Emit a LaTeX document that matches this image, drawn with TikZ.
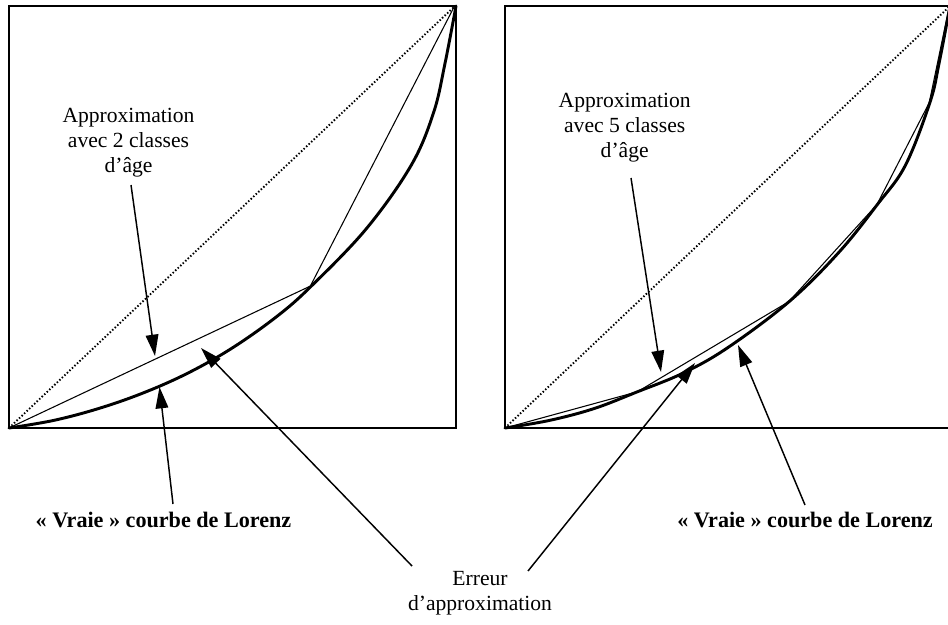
\documentclass[tikz,border=0pt]{standalone}
\usepackage{fontspec}
\setmainfont{Liberation Serif}
\usetikzlibrary{arrows.meta}
\begin{document}
\begin{tikzpicture}[x=0.75pt,y=-0.75pt,
  frame/.style={line width=1.4pt},
  lorenz/.style={line width=2.2pt, line join=round, line cap=round},
  chord/.style={line width=0.8pt, line join=round},
  equality/.style={line width=1.4pt, dash pattern=on 1.1pt off 1.5pt},
  pointer/.style={line width=1.1pt, -{Triangle[length=16pt,width=9.5pt]}},
  txt/.style={font=\fontsize{16.2}{18.5}\selectfont, align=center, inner sep=0pt},
  boldtxt/.style={font=\fontsize{16.6}{18.5}\selectfont\bfseries, align=center, inner sep=0pt}]
\useasboundingbox (0,0) rectangle (948,624);

% ---- left panel: two age classes ----
\draw[frame] (9,6) rectangle (456,428);
\begin{scope}[shift={(9,428)}, xscale=447, yscale=-422]
  \coordinate (L0) at (0,0);
  \coordinate (L1) at (1,1);
  \coordinate (Lk) at (0.677,0.337);
  \draw[equality] (L0) -- (L1);
  \draw[chord] (L0) -- (Lk) -- (L1);
  \draw[lorenz] plot[smooth, tension=0.6] coordinates {(0,0) (0.1,0.018) (0.2,0.046) (0.3,0.083) (0.4,0.130) (0.5,0.190) (0.6,0.265) (0.677,0.337) (0.8,0.473) (0.9,0.623) (0.95,0.748) (0.975,0.862) (1,1)};
\end{scope}

% ---- right panel: five age classes ----
\draw[frame] (505,6) rectangle (950,428);
\begin{scope}[shift={(505,428)}, xscale=445, yscale=-422]
  \coordinate (R0) at (0,0);
  \coordinate (R1) at (1,1);
  \coordinate (Ra) at (0.298,0.086);
  \coordinate (Rb) at (0.639,0.300);
  \coordinate (Rc) at (0.837,0.530);
  \coordinate (Rd) at (0.955,0.772);
  \draw[equality] (R0) -- (R1);
  \draw[chord] (R0) -- (Ra) -- (Rb) -- (Rc) -- (Rd) -- (R1);
  \draw[lorenz] plot[smooth, tension=0.6] coordinates {(0,0) (0.1,0.018) (0.2,0.046) (0.298,0.086) (0.4,0.130) (0.5,0.190) (0.639,0.300) (0.75,0.416) (0.837,0.530) (0.9,0.623) (0.955,0.772) (0.975,0.862) (1,1)};
\end{scope}

% ---- labels (base anchor = baseline of the last line) ----
\node[txt, anchor=base] (approxA) at (128.5,172) {Approximation\\avec 2 classes\\d’âge};
\node[txt, anchor=base] (approxB) at (624.7,157) {Approximation\\avec 5 classes\\d’âge};
\node[boldtxt, anchor=base] (trueA) at (163.5,527) {«~Vraie~» courbe de Lorenz};
\node[boldtxt, anchor=base] (trueB) at (805,527) {«~Vraie~» courbe de Lorenz};
\node[txt, anchor=base] (error) at (480,610) {Erreur\\d’approximation};

% ---- pointers ----
\coordinate (p1s) at (131,185);  \coordinate (p1e) at (155,356);
\coordinate (p2s) at (173,504);  \coordinate (p2e) at (159.5,387);
\coordinate (p3s) at (412,566);  \coordinate (p3e) at (201,348);
\coordinate (p4s) at (631,178);  \coordinate (p4e) at (661,372);
\coordinate (p5s) at (528,571);  \coordinate (p5e) at (695,363);
\coordinate (p6s) at (805,505);  \coordinate (p6e) at (738,345);
\draw[pointer] (p1s) -- (p1e);
\draw[pointer] (p2s) -- (p2e);
\draw[pointer] (p3s) -- (p3e);
\draw[pointer] (p4s) -- (p4e);
\draw[pointer] (p5s) -- (p5e);
\draw[pointer] (p6s) -- (p6e);
\end{tikzpicture}
\end{document}
